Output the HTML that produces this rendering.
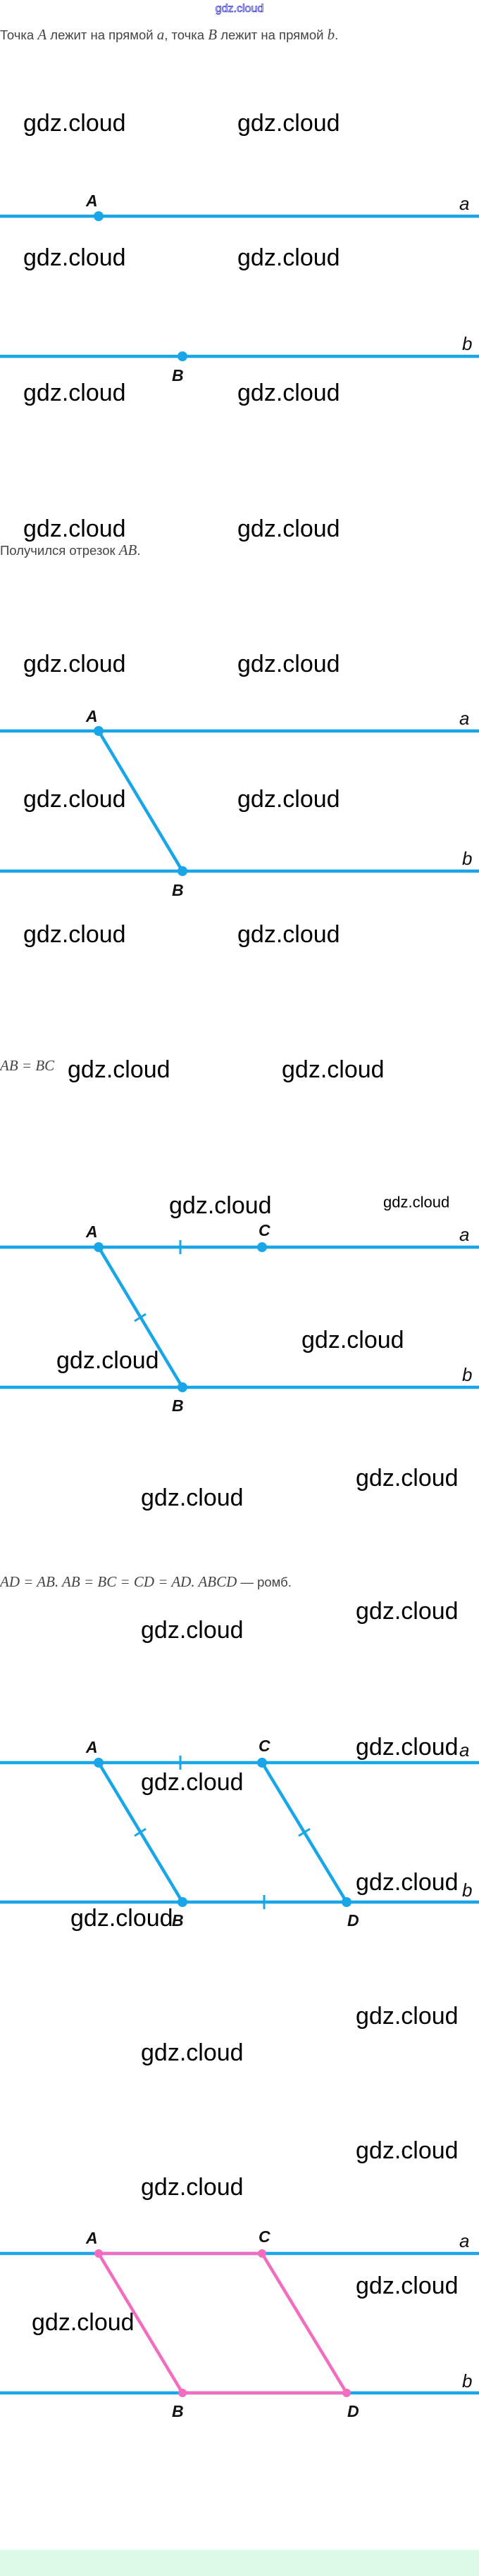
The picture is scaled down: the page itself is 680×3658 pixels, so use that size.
<!DOCTYPE html>
<html><head><meta charset="utf-8"><style>
html,body{margin:0;padding:0;background:#fff;width:680px;height:3658px;overflow:hidden}
svg{display:block}
.w{font-family:"Liberation Sans",sans-serif;font-size:34px;fill:#000;dominant-baseline:central}
.t{font-family:"Liberation Sans",sans-serif;font-size:18.5px;fill:#444}
.m{font-family:"Liberation Serif",serif;font-style:italic;font-size:21px}
.L{font-family:"Liberation Sans",sans-serif;font-style:italic;font-weight:bold;font-size:23px;fill:#111}
.l{font-family:"Liberation Sans",sans-serif;font-style:italic;font-size:26px;fill:#111}
.bl{stroke:#19a6e8;stroke-width:4.5;fill:none}
.pk{stroke:#f26cbf;stroke-width:4.5;fill:none}
</style></head><body>
<svg width="680" height="3658" viewBox="0 0 680 3658" xmlns="http://www.w3.org/2000/svg">
<text x="340" y="17" text-anchor="middle" font-family="Liberation Sans,sans-serif" font-size="16" fill="#fff" stroke="#3a3ad0" stroke-width="0.8">gdz.cloud</text>

<!-- Section 1 -->
<text class="t" x="0" y="56">Точка <tspan class="m">A</tspan> лежит на прямой <tspan class="m">a</tspan>, точка <tspan class="m">B</tspan> лежит на прямой <tspan class="m">b</tspan>.</text>
<text class="w" x="33" y="175">gdz.cloud</text><text class="w" x="337" y="175">gdz.cloud</text>
<text class="w" x="33" y="366">gdz.cloud</text><text class="w" x="337" y="366">gdz.cloud</text>
<text class="w" x="33" y="558">gdz.cloud</text><text class="w" x="337" y="558">gdz.cloud</text>
<text class="w" x="33" y="751">gdz.cloud</text><text class="w" x="337" y="751">gdz.cloud</text>
<line class="bl" x1="0" y1="307" x2="680" y2="307"/><line class="bl" x1="0" y1="506" x2="680" y2="506"/>
<circle cx="140" cy="307" r="7" fill="#19a6e8"/><circle cx="259" cy="506" r="7" fill="#19a6e8"/>
<text class="L" x="122" y="293">A</text><text class="L" x="244" y="541">B</text>
<text class="l" x="652" y="298">a</text><text class="l" x="656" y="497">b</text>

<!-- Section 2 -->
<text class="t" x="0" y="788">Получился отрезок <tspan class="m">AB</tspan>.</text>
<text class="w" x="33" y="943">gdz.cloud</text><text class="w" x="337" y="943">gdz.cloud</text>
<text class="w" x="33" y="1135">gdz.cloud</text><text class="w" x="337" y="1135">gdz.cloud</text>
<text class="w" x="33" y="1327">gdz.cloud</text><text class="w" x="337" y="1327">gdz.cloud</text>
<line class="bl" x1="0" y1="1038" x2="680" y2="1038"/><line class="bl" x1="0" y1="1237" x2="680" y2="1237"/>
<line class="bl" x1="140" y1="1038" x2="259" y2="1237"/>
<circle cx="140" cy="1038" r="7" fill="#19a6e8"/><circle cx="259" cy="1237" r="7" fill="#19a6e8"/>
<text class="L" x="122" y="1025">A</text><text class="L" x="244" y="1272">B</text>
<text class="l" x="652" y="1029">a</text><text class="l" x="656" y="1228">b</text>

<!-- Section 3 -->
<text class="t" x="0" y="1520"><tspan class="m">AB = BC</tspan></text>
<text class="w" x="96" y="1519">gdz.cloud</text><text class="w" x="400" y="1519">gdz.cloud</text>
<text class="w" x="240" y="1712">gdz.cloud</text>
<text class="w" x="544" y="1707" style="font-size:22px">gdz.cloud</text>
<line class="bl" x1="0" y1="1771" x2="680" y2="1771"/><line class="bl" x1="0" y1="1970" x2="680" y2="1970"/>
<line class="bl" x1="140" y1="1771" x2="259" y2="1970"/>
<line class="bl" x1="256" y1="1761" x2="256" y2="1781" style="stroke-width:3"/>
<line class="bl" x1="191" y1="1876" x2="207" y2="1866" style="stroke-width:3"/>
<circle cx="140" cy="1771" r="7" fill="#19a6e8"/><circle cx="372" cy="1771" r="7" fill="#19a6e8"/><circle cx="259" cy="1970" r="7" fill="#19a6e8"/>
<text class="L" x="122" y="1757">A</text><text class="L" x="367" y="1755">C</text><text class="L" x="244" y="2004">B</text>
<text class="l" x="652" y="1762">a</text><text class="l" x="656" y="1961">b</text>
<text class="w" x="428" y="1903">gdz.cloud</text>
<text class="w" x="80" y="1932">gdz.cloud</text>
<text class="w" x="200" y="2127">gdz.cloud</text>
<text class="w" x="505" y="2099">gdz.cloud</text>

<!-- Section 4 -->
<text class="t" x="0" y="2253"><tspan class="m">AD = AB. AB = BC = CD = AD. ABCD</tspan> — ромб.</text>
<text class="w" x="505" y="2288">gdz.cloud</text>
<text class="w" x="200" y="2315">gdz.cloud</text>
<text class="w" x="505" y="2481">gdz.cloud</text>
<line class="bl" x1="0" y1="2503" x2="680" y2="2503"/><line class="bl" x1="0" y1="2701" x2="680" y2="2701"/>
<line class="bl" x1="140" y1="2503" x2="259" y2="2701"/><line class="bl" x1="372" y1="2503" x2="492" y2="2701"/>
<line class="bl" x1="256" y1="2493" x2="256" y2="2513" style="stroke-width:3"/>
<line class="bl" x1="375" y1="2691" x2="375" y2="2711" style="stroke-width:3"/>
<line class="bl" x1="191" y1="2607" x2="207" y2="2597" style="stroke-width:3"/>
<line class="bl" x1="424" y1="2607" x2="440" y2="2597" style="stroke-width:3"/>
<circle cx="140" cy="2503" r="7" fill="#19a6e8"/><circle cx="372" cy="2503" r="7" fill="#19a6e8"/>
<circle cx="259" cy="2701" r="7" fill="#19a6e8"/><circle cx="492" cy="2701" r="7" fill="#19a6e8"/>
<text class="L" x="122" y="2489">A</text><text class="L" x="367" y="2487">C</text>
<text class="L" x="244" y="2735">B</text><text class="L" x="493" y="2735">D</text>
<text class="l" x="652" y="2494">a</text><text class="l" x="656" y="2693">b</text>
<text class="w" x="200" y="2531">gdz.cloud</text>
<text class="w" x="505" y="2673">gdz.cloud</text>
<text class="w" x="100" y="2724">gdz.cloud</text>

<!-- Section 5 -->
<text class="w" x="505" y="2863">gdz.cloud</text>
<text class="w" x="200" y="2915">gdz.cloud</text>
<text class="w" x="505" y="3054">gdz.cloud</text>
<text class="w" x="200" y="3106">gdz.cloud</text>
<line class="bl" x1="0" y1="3200" x2="680" y2="3200"/><line class="bl" x1="0" y1="3398" x2="680" y2="3398"/>
<polygon class="pk" points="140,3200 372,3200 492,3398 259,3398"/>
<circle cx="140" cy="3200" r="6" fill="#f26cbf"/><circle cx="372" cy="3200" r="6" fill="#f26cbf"/>
<circle cx="259" cy="3398" r="6" fill="#f26cbf"/><circle cx="492" cy="3398" r="6" fill="#f26cbf"/>
<text class="L" x="122" y="3186">A</text><text class="L" x="367" y="3184">C</text>
<text class="L" x="244" y="3432">B</text><text class="L" x="493" y="3432">D</text>
<text class="l" x="652" y="3191">a</text><text class="l" x="656" y="3390">b</text>
<text class="w" x="505" y="3246">gdz.cloud</text>
<text class="w" x="45" y="3298">gdz.cloud</text>
<rect x="0" y="3621" width="680" height="37" fill="#dcfbe7"/>
</svg>
</body></html>
